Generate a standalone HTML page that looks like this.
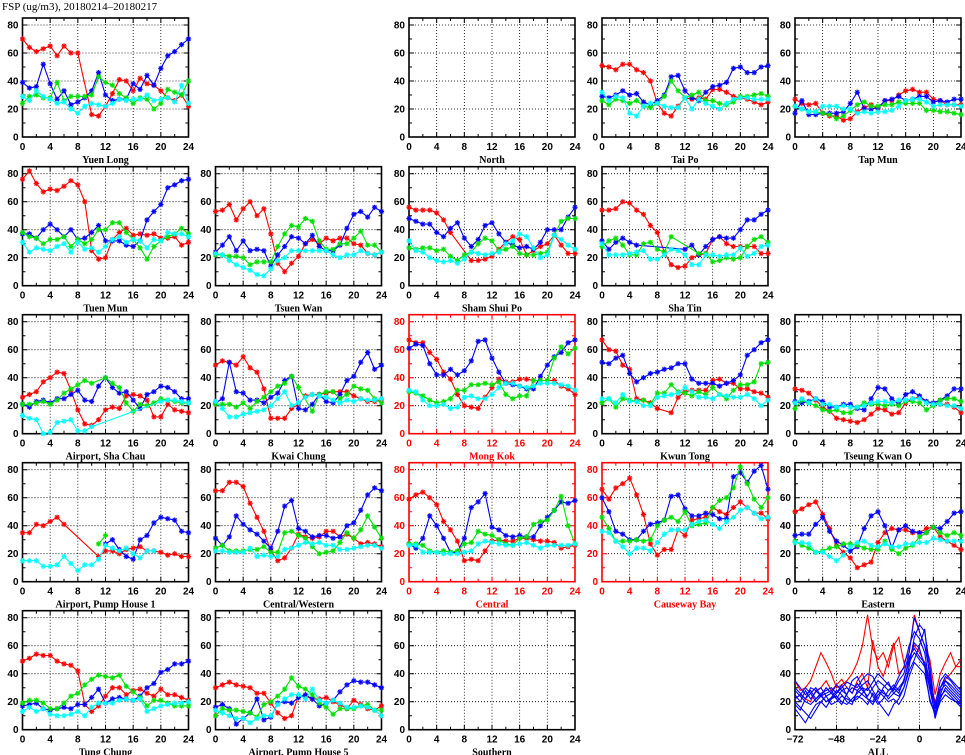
<!DOCTYPE html>
<html><head><meta charset="utf-8"><title>FSP</title>
<style>
html,body{margin:0;padding:0;background:#fff;}
svg{display:block;font-family:"Liberation Sans",sans-serif;}
</style></head>
<body>
<svg id="chart" width="965" height="755" viewBox="0 0 965 755">
<text x="2" y="10" font-size="11" font-family="Liberation Serif, serif">FSP (ug/m3), 20180214–20180217</text>
</svg>
<script>
const hours = [0,1,2,3,4,5,6,7,8,9,10,11,12,13,14,15,16,17,18,19,20,21,22,23,24];
const xTickLabels = [0,4,8,12,16,20,24];
const yTickLabels = [0,20,40,60,80];
const allTickLabels = [-72,-48,-24,0,24];
const allHours = [-72,-69,-66,-63,-60,-57,-54,-51,-48,-45,-42,-39,-36,-33,-30,-27,-24,-21,-18,-15,-12,-9,-6,-3,0,3,6,9,12,15,18,21,24];
const N = null;

const yuenLongRed = [70,64,61,63,65,58,65,60,60,N,16,15,22,31,41,40,33,42,38,37,33,28,26,30,22];
const yuenLongBlue = [39,35,36,52,38,27,33,23,25,28,33,46,30,26,27,27,38,34,44,37,49,58,61,66,70];
const yuenLongGreen = [24,29,30,28,28,39,26,29,29,29,30,43,39,37,31,28,24,28,27,20,24,34,32,30,40];
const yuenLongCyan = [29,26,33,29,27,24,25,20,17,22,24,23,22,24,27,26,27,27,30,26,27,28,25,37,24];

const taiPoRed = [51,50,48,52,52,48,46,40,24,17,15,22,28,27,28,27,34,34,32,29,28,27,25,23,25];
const taiPoBlue = [29,28,30,33,30,31,25,23,26,30,43,44,33,28,26,32,36,37,39,49,50,46,46,50,51];
const taiPoGreen = [26,23,27,26,24,26,22,21,24,29,40,33,28,30,32,26,26,24,23,25,29,29,30,31,29];
const taiPoCyan = [32,26,29,28,17,15,22,24,24,22,21,21,28,20,27,24,22,20,24,27,28,28,27,27,27];

const tapMunRed = [27,24,23,24,17,15,15,12,13,18,21,23,20,26,26,30,33,34,32,32,27,26,23,23,23];
const tapMunBlue = [17,26,16,16,17,17,17,18,24,32,20,20,21,26,27,29,26,27,29,29,25,26,25,27,27];
const tapMunGreen = [22,20,18,18,17,16,13,15,19,23,25,22,22,23,23,25,24,24,24,19,19,18,18,17,16];
const tapMunCyan = [22,20,18,18,22,22,22,20,20,17,18,17,18,18,19,22,26,27,27,25,22,23,23,23,22];

const tuenMunRed = [76,82,73,67,69,68,71,75,72,60,25,19,20,33,38,41,36,37,36,37,34,34,35,29,31];
const tuenMunBlue = [37,37,34,40,44,40,35,40,33,34,38,43,32,32,32,29,28,32,47,53,58,70,72,75,76];
const tuenMunGreen = [38,35,34,30,33,33,35,28,33,30,33,40,40,45,45,38,33,27,19,28,32,35,37,41,37];
const tuenMunCyan = [31,24,27,26,25,28,30,24,31,26,27,24,28,33,35,31,33,32,27,33,32,38,37,37,35];

const tsuenWanRed = [53,54,58,47,55,60,50,55,37,16,10,16,21,30,33,30,34,32,34,34,30,29,23,22,24];
const tsuenWanBlue = [24,29,35,25,32,25,26,25,14,22,28,35,34,30,36,28,25,25,29,41,51,53,49,56,53];
const tsuenWanGreen = [22,22,21,21,20,15,17,17,17,28,37,43,42,48,46,32,26,26,30,30,34,39,29,29,24];
const tsuenWanCyan = [23,22,18,15,13,11,8,7,12,18,20,25,25,25,25,25,25,22,20,22,22,25,23,22,24];

const shamShuiPoRed = [56,54,54,54,52,47,38,N,N,18,18,19,21,26,31,35,33,22,25,28,30,36,29,23,23];
const shamShuiPoBlue = [48,46,44,44,38,35,41,45,34,28,33,43,45,37,31,29,27,28,26,31,40,40,40,49,56];
const shamShuiPoGreen = [27,26,27,27,25,26,21,18,22,24,30,34,32,25,26,28,23,22,22,23,24,36,46,48,48];
const shamShuiPoCyan = [32,25,24,20,18,17,18,16,19,24,23,22,23,24,30,32,37,35,27,20,22,36,33,29,26];

const shaTinRed = [54,54,55,60,59,54,51,43,38,24,15,13,14,20,22,23,33,35,30,28,28,28,28,23,23];
const shaTinBlue = [32,26,31,34,31,29,N,N,N,N,N,N,26,29,22,28,33,35,34,34,40,47,47,51,54];
const shaTinGreen = [28,32,34,29,22,22,30,31,26,24,35,N,N,N,23,23,17,18,20,19,20,28,33,35,31];
const shaTinCyan = [30,22,22,22,23,24,25,19,19,22,26,25,22,15,15,22,22,21,22,22,27,21,23,28,29];

const shaChauRed = [26,28,30,37,40,44,43,31,17,7,6,10,17,19,18,27,28,27,24,12,12,21,17,16,15];
const shaChauBlue = [21,19,23,24,22,25,25,28,31,24,23,34,40,33,29,30,24,18,28,30,34,33,30,25,25];
const shaChauGreen = [21,21,22,23,21,24,29,32,35,38,36,N,40,36,33,22,16,21,20,22,25,24,23,22,22];
const shaChauCyan = [13,11,10,0,1,8,9,10,2,2,5,N,N,N,N,N,N,N,N,N,23,24,24,23,22];

const kwaiChungRed = [49,52,51,49,55,47,44,32,11,11,11,18,21,27,28,28,29,30,30,30,27,25,23,23,24];
const kwaiChungBlue = [22,25,51,30,29,24,24,22,26,29,38,41,18,17,21,28,23,22,28,38,41,51,58,46,49];
const kwaiChungGreen = [21,21,21,19,22,18,23,26,30,34,36,41,33,N,16,28,30,30,25,28,34,32,31,25,22];
const kwaiChungCyan = [23,18,12,12,14,15,16,17,20,25,30,20,22,26,28,27,26,24,22,24,23,25,24,24,25];

const mongKokRed = [67,65,65,58,53,44,39,28,20,19,18,26,33,39,37,37,39,39,38,38,38,38,34,32,28];
const mongKokBlue = [61,64,63,50,42,42,46,42,45,52,66,67,54,44,36,35,34,32,32,41,49,55,58,65,67];
const mongKokGreen = [30,29,27,24,22,23,25,31,31,35,35,36,35,37,28,25,27,27,38,38,38,54,62,57,61];
const mongKokCyan = [31,30,24,20,20,21,18,19,26,27,25,25,28,33,36,36,34,33,34,36,36,36,35,34,31];

const kwunTongRed = [67,60,59,49,46,25,24,22,18,N,15,26,30,31,31,31,38,39,36,36,32,32,30,29,26];
const kwunTongBlue = [51,50,54,56,43,37,40,43,44,46,47,50,50,39,36,36,36,34,36,38,42,56,60,65,67];
const kwunTongGreen = [22,25,19,25,24,23,24,21,29,29,35,30,29,27,30,28,33,28,25,31,35,35,37,50,51];
const kwunTongCyan = [25,25,22,28,23,23,20,20,26,27,28,29,33,30,26,26,25,28,27,26,26,28,25,20,24];

const tkoRed = [32,31,29,24,19,16,11,10,9,8,10,14,18,17,14,15,22,25,26,23,21,21,21,19,15];
const tkoBlue = [23,22,23,25,23,19,19,21,21,18,17,25,33,32,25,21,28,30,27,23,22,24,27,32,32];
const tkoGreen = [18,24,22,20,17,16,17,15,15,19,22,21,21,20,21,20,23,23,22,17,20,24,25,25,23];
const tkoCyan = [22,25,22,25,21,21,19,20,19,19,20,22,23,23,22,24,24,25,25,22,21,21,20,20,18];

const ph1Red = [35,35,41,40,43,46,41,N,N,N,N,18,22,22,20,23,24,25,22,22,21,19,20,18,18];
const ph1Blue = [N,N,N,N,N,N,N,N,N,N,N,N,27,30,23,18,16,30,33,42,46,45,44,36,35];
const ph1Green = [N,N,N,N,N,N,N,N,N,N,N,27,33,N,N,N,N,N,N,N,N,N,N,N,N];
const ph1Cyan = [15,15,15,11,11,12,18,13,8,12,12,16,26,24,22,24,20,17,22,22,N,N,N,N,N];

const cwRed = [65,65,71,71,68,56,46,36,22,15,17,24,34,32,31,32,36,36,32,34,31,27,28,27,25];
const cwBlue = [31,26,32,47,41,37,34,29,24,36,54,58,38,36,32,33,33,31,32,40,42,51,62,67,65];
const cwGreen = [24,26,22,22,22,23,23,25,21,21,35,36,33,31,25,20,21,22,28,35,31,37,47,39,31];
const cwCyan = [22,22,21,21,21,24,18,19,18,18,23,24,26,28,27,28,26,26,23,23,24,25,26,26,24];

const centralRed = [59,62,64,60,55,43,37,29,15,16,15,22,29,30,29,29,31,31,30,29,29,28,24,25,26];
const centralBlue = [27,24,31,47,40,31,21,21,31,53,57,63,39,37,33,32,33,32,32,40,46,51,57,56,58];
const centralGreen = [27,27,26,22,21,22,21,22,27,28,36,34,33,30,27,26,31,32,41,43,44,51,61,40,27];
const centralCyan = [26,26,21,21,21,20,20,20,21,22,27,29,28,27,26,26,27,28,26,24,26,26,26,26,27];

const cbRed = [66,59,67,70,74,62,48,27,19,23,23,37,33,44,45,46,53,50,48,53,57,53,49,49,45];
const cbBlue = [60,50,36,34,30,30,36,41,42,44,61,62,52,47,47,49,48,45,45,75,78,71,79,83,66];
const cbGreen = [46,38,29,29,29,30,29,30,40,44,46,43,50,40,41,42,53,58,60,67,82,70,59,53,60];
const cbCyan = [36,35,29,25,20,24,24,22,28,34,37,37,37,41,43,44,41,38,43,46,51,53,49,45,46];

const easternRed = [50,52,55,57,48,38,26,21,17,10,12,14,28,35,38,37,37,35,35,38,39,32,29,26,23];
const easternBlue = [33,34,34,41,46,36,29,26,22,25,38,47,50,40,24,37,40,36,35,35,39,38,43,49,50];
const easternGreen = [29,26,24,21,22,24,25,27,27,26,24,23,23,29,23,20,24,26,32,35,39,35,33,35,33];
const easternCyan = [28,28,27,21,21,18,15,19,25,28,29,26,25,27,25,25,27,27,28,28,31,30,29,29,29];

const tungChungRed = [49,51,54,53,53,49,47,46,42,18,13,17,24,30,30,25,28,29,26,24,29,25,25,23,21];
const tungChungBlue = [17,18,19,15,14,15,16,15,18,18,23,29,19,22,23,22,21,24,30,33,41,43,47,47,49];
const tungChungGreen = [19,21,21,19,15,15,19,24,26,32,36,39,38,37,39,31,27,23,17,21,21,19,17,17,17];
const tungChungCyan = [13,16,13,15,11,10,10,11,13,10,16,19,19,19,21,22,21,22,13,15,17,18,19,19,20];

const ph5Red = [30,32,34,32,31,30,26,26,19,12,8,10,24,24,22,22,23,20,18,15,21,18,15,14,17];
const ph5Blue = [16,18,15,4,8,12,22,7,9,19,20,19,23,25,22,17,19,21,27,32,35,34,34,32,30];
const ph5Green = [10,15,14,14,13,12,9,18,20,24,29,37,31,29,25,19,16,11,15,15,15,17,18,14,14];
const ph5Cyan = [14,12,10,8,8,5,8,10,10,18,22,25,25,22,29,21,19,21,19,16,16,17,16,14,10];

const allBlue1 = [25,20,28,22,27,30,24,26,22,28,30,26,33,28,24,30,35,32,28,30,38,45,60,70,65,55,30,10,25,35,32,28,24];
const allBlue2 = [15,10,5,12,18,20,16,22,24,20,18,22,26,30,22,18,25,28,22,26,30,35,50,62,58,45,20,12,30,38,35,30,26];
const allBlue3 = [30,26,22,30,28,24,30,26,32,28,25,35,38,30,28,34,40,36,32,28,35,40,55,80,70,60,40,15,28,32,28,24,20];
const allBlue4 = [20,16,12,8,14,20,24,18,20,24,22,20,24,22,18,26,20,15,10,18,22,30,42,50,60,72,35,8,22,30,26,22,18];
const allBlue5 = [35,30,25,28,22,26,28,30,26,30,34,32,30,36,40,38,30,26,24,30,26,36,48,55,50,45,30,18,35,40,36,32,28];
const allBlue6 = [28,24,20,18,22,25,20,23,28,25,20,18,28,25,22,20,28,24,20,22,18,24,38,48,44,40,22,10,20,25,22,20,18];
const allBlue7 = [22,25,30,26,20,24,26,28,22,18,26,30,28,32,35,28,22,30,34,26,24,30,45,66,75,70,45,15,30,35,30,26,22];
const allBlue8 = [18,14,22,26,30,24,20,22,26,32,24,20,22,26,30,24,18,22,28,32,28,34,52,58,52,48,28,12,24,28,24,20,16];
const allRed1 = [35,28,30,35,45,55,48,40,30,32,35,40,48,60,82,58,50,55,45,60,66,48,55,82,70,60,50,25,40,48,55,45,45];
const allRed2 = [22,25,22,20,28,30,35,28,32,36,30,26,35,40,30,64,45,38,50,62,40,44,50,60,55,48,35,20,30,36,40,45,50];

const panels = [
 {name:"Yuen Long", key:"yuen-long", col:0,row:0, hot:false, s:[yuenLongRed,yuenLongBlue,yuenLongGreen,yuenLongCyan]},
 {name:"North", key:"north", col:2,row:0, hot:false, s:[]},
 {name:"Tai Po", key:"tai-po", col:3,row:0, hot:false, s:[taiPoRed,taiPoBlue,taiPoGreen,taiPoCyan]},
 {name:"Tap Mun", key:"tap-mun", col:4,row:0, hot:false, s:[tapMunRed,tapMunBlue,tapMunGreen,tapMunCyan]},
 {name:"Tuen Mun", key:"tuen-mun", col:0,row:1, hot:false, s:[tuenMunRed,tuenMunBlue,tuenMunGreen,tuenMunCyan]},
 {name:"Tsuen Wan", key:"tsuen-wan", col:1,row:1, hot:false, s:[tsuenWanRed,tsuenWanBlue,tsuenWanGreen,tsuenWanCyan]},
 {name:"Sham Shui Po", key:"sham-shui-po", col:2,row:1, hot:false, s:[shamShuiPoRed,shamShuiPoBlue,shamShuiPoGreen,shamShuiPoCyan]},
 {name:"Sha Tin", key:"sha-tin", col:3,row:1, hot:false, s:[shaTinRed,shaTinBlue,shaTinGreen,shaTinCyan]},
 {name:"Airport, Sha Chau", key:"airport-sha-chau", col:0,row:2, hot:false, s:[shaChauRed,shaChauBlue,shaChauGreen,shaChauCyan]},
 {name:"Kwai Chung", key:"kwai-chung", col:1,row:2, hot:false, s:[kwaiChungRed,kwaiChungBlue,kwaiChungGreen,kwaiChungCyan]},
 {name:"Mong Kok", key:"mong-kok", col:2,row:2, hot:true, s:[mongKokRed,mongKokBlue,mongKokGreen,mongKokCyan]},
 {name:"Kwun Tong", key:"kwun-tong", col:3,row:2, hot:false, s:[kwunTongRed,kwunTongBlue,kwunTongGreen,kwunTongCyan]},
 {name:"Tseung Kwan O", key:"tseung-kwan-o", col:4,row:2, hot:false, s:[tkoRed,tkoBlue,tkoGreen,tkoCyan]},
 {name:"Airport, Pump House 1", key:"airport-pump-house-1", col:0,row:3, hot:false, s:[ph1Red,ph1Blue,ph1Green,ph1Cyan]},
 {name:"Central/Western", key:"central-western", col:1,row:3, hot:false, s:[cwRed,cwBlue,cwGreen,cwCyan]},
 {name:"Central", key:"central", col:2,row:3, hot:true, s:[centralRed,centralBlue,centralGreen,centralCyan]},
 {name:"Causeway Bay", key:"causeway-bay", col:3,row:3, hot:true, s:[cbRed,cbBlue,cbGreen,cbCyan]},
 {name:"Eastern", key:"eastern", col:4,row:3, hot:false, s:[easternRed,easternBlue,easternGreen,easternCyan]},
 {name:"Tung Chung", key:"tung-chung", col:0,row:4, hot:false, s:[tungChungRed,tungChungBlue,tungChungGreen,tungChungCyan]},
 {name:"Airport, Pump House 5", key:"airport-pump-house-5", col:1,row:4, hot:false, s:[ph5Red,ph5Blue,ph5Green,ph5Cyan]},
 {name:"Southern", key:"southern", col:2,row:4, hot:false, s:[]}
];
const seriesColors = ["#ff0000","#0000ff","#00e000","#00ffff"];
const seriesNames = ["red","blue","green","cyan"];
const colLeft = [22.5,215.5,409,602,795];
const rowBottom = [137,285.7,433.7,581.7,729.7];
const PW = 166, PH = 119, YMAX = 85;
const NS = "http://www.w3.org/2000/svg";
const svg = document.getElementById("chart");
function mk(tag, attrs, parent){ const e=document.createElementNS(NS,tag); for(const k in attrs) e.setAttribute(k,attrs[k]); (parent||svg).appendChild(e); return e; }

function drawFrame(g, L, B, hot, xmin, xmax, xticks, minorStep, label){
  const col = hot ? "#ff0000" : "#000";
  const T = B - PH;
  const sx = v => L + (v - xmin)/(xmax - xmin)*PW;
  const sy = v => B - v/YMAX*PH;
  let gp = "";
  xticks.forEach(v=>{ if(v>xmin && v<xmax) gp += `M${sx(v)},${T}V${B}`; });
  [20,40,60,80].forEach(v=>{ gp += `M${L},${sy(v)}H${L+PW}`; });
  const grid = mk("path",{d:gp,stroke:"#000","stroke-width":"0.8","stroke-dasharray":"1,2",fill:"none"},g);
  
  
  let tp="";
  for(let v=xmin; v<=xmax; v+=minorStep){ const len = xticks.includes(v)?5:3; tp+=`M${sx(v)},${B}v${-len}M${sx(v)},${T}v${len}`; }
  for(let v=0; v<=80; v+=10){ const len = v%20===0?5:3; tp+=`M${L},${sy(v)}h${len}M${L+PW},${sy(v)}h${-len}`; }
  const ticks = mk("path",{d:tp,stroke:col,"stroke-width":"1",fill:"none"},g);
  
  
  const fr = mk("rect",{x:L,y:T,width:PW,height:PH,fill:"none",stroke:col,"stroke-width":"1.6"},g);
  
  
  yTickLabels.forEach(v=>{
    const t = mk("text",{x:L-4,y:sy(v)+3.5,"text-anchor":"end","font-size":"10","font-weight":"bold",fill:col},g);
    t.textContent = v;
    
    
  });
  xticks.forEach(v=>{
    const t = mk("text",{x:sx(v),y:B+13,"text-anchor":"middle","font-size":"10","font-weight":"bold",fill:col},g);
    t.textContent = (v<0?"\u2212"+(-v):v);
    
    
  });
  const nm = mk("text",{x:L+PW/2,y:B+26,"text-anchor":"middle","font-size":"10","font-weight":"bold",fill:col,"font-family":"Liberation Serif, serif"},g);
  nm.textContent = label;
  
  
  return {sx, sy};
}

panels.forEach(p=>{
  const L = colLeft[p.col], B = rowBottom[p.row];
  const g = mk("g",{});
  
  
  const {sx, sy} = drawFrame(g, L, B, p.hot, 0, 24, xTickLabels, 2, p.name);
  p.s.forEach((vals, si)=>{
    const color = seriesColors[si];
    const sg = mk("g",{},g);
    
    
    let d=""; let first=true; let md="";
    vals.forEach((v,i)=>{
      if(v===null) return;
      const x=sx(hours[i]), y=sy(v);
      d += (first?"M":"L")+x.toFixed(1)+","+y.toFixed(1); first=false;
      const r=2.6, q=1.9;
      md += `M${x-r},${y}h${2*r}M${x},${y-r}v${2*r}M${x-q},${y-q}l${2*q},${2*q}M${x-q},${y+q}l${2*q},${-2*q}`;
    });
    const ln = mk("path",{d:d,stroke:color,"stroke-width":"1.1",fill:"none"},sg);
    
    
    const halo = mk("path",{d:md,stroke:color,"stroke-width":"2","stroke-opacity":"0.2",fill:"none"},sg);
    
    
    const mkp = mk("path",{d:md,stroke:color,"stroke-width":"1",fill:"none"},sg);
    
    
  });
});

(function(){
  const L = colLeft[4], B = rowBottom[4];
  const g = mk("g",{});
  
  
  const {sx, sy} = drawFrame(g, L, B, false, -72, 24, allTickLabels, 12, "ALL");
  const blues = [allBlue1,allBlue2,allBlue3,allBlue4,allBlue5,allBlue6,allBlue7,allBlue8];
  const reds = [allRed1,allRed2];
  const draw = (vals,color)=>{
    let d="";
    vals.forEach((v,i)=>{ d += (i?"L":"M")+sx(allHours[i]).toFixed(1)+","+sy(v).toFixed(1); });
    const ln = mk("path",{d:d,stroke:color,"stroke-width":"1.1",fill:"none"},g);
    
    
  };
  reds.forEach(v=>draw(v,"#ff0000"));
  blues.forEach(v=>draw(v,"#0000ff"));
})();
</script>
</body></html>
